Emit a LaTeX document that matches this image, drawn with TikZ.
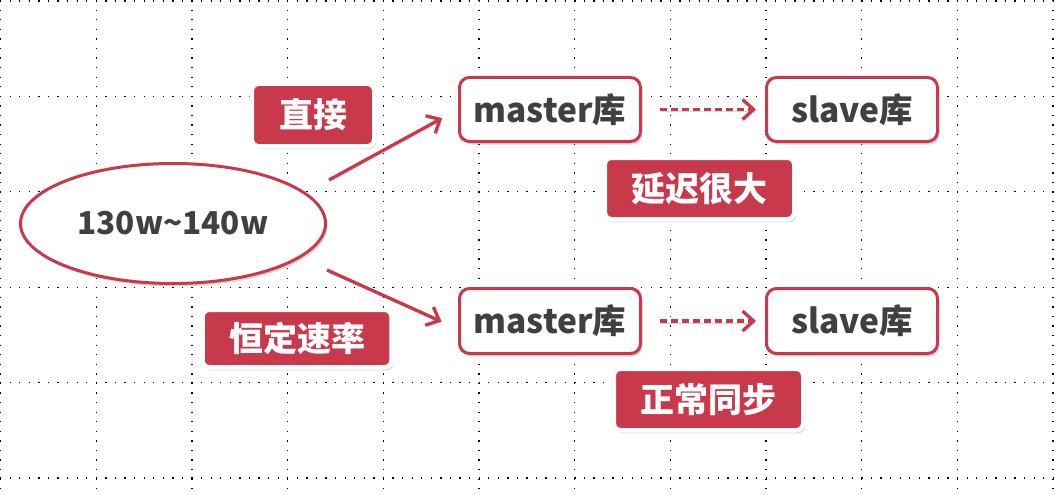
\documentclass[tikz,border=0pt]{standalone}
\usepackage{fontspec}
\setmainfont{Noto Sans CJK SC}[BoldFont={Noto Sans CJK SC Black}]
\usetikzlibrary{shapes.geometric,shadows,arrows.meta}
\definecolor{myred}{HTML}{C8394B}
\definecolor{mytext}{HTML}{404040}
\begin{document}
\begin{tikzpicture}[x=1pt,y=-1pt,
  griddot/.style={black, line width=1.3pt, dash pattern=on 1.3pt off 8.27pt},
  dbbox/.style={draw=myred, line width=3pt, fill=white, rounded corners=10pt,
    inner sep=0pt, font=\fontsize{33.5}{36}\selectfont\bfseries, text=mytext,
    drop shadow={shadow xshift=2pt, shadow yshift=-3pt, opacity=0.3}},
  valnode/.style={ellipse, draw=myred, line width=3pt, fill=white,
    inner sep=0pt, minimum width=305pt, minimum height=120pt,
    font=\fontsize{31.5}{34}\selectfont\bfseries, text=mytext,
    drop shadow={shadow xshift=2pt, shadow yshift=-3pt, opacity=0.3}},
  tagnode/.style={draw=white, line width=4.5pt, fill=myred, rounded corners=7pt,
    inner sep=0pt, font=\fontsize{34}{36}\selectfont\bfseries, text=white,
    drop shadow={shadow xshift=2pt, shadow yshift=-3pt, opacity=0.3}},
  linkarrow/.style={draw=myred, line width=3.3pt,
    -{Straight Barb[length=11pt,width=20pt]},
    preaction={draw=black!45, opacity=0.35, transform canvas={xshift=1.5pt,yshift=-2pt}}},
  dasharrow/.style={linkarrow, dash pattern=on 7pt off 4pt}
]
\useasboundingbox (0,0) rectangle (1055,495);
\fill[white] (0,0) rectangle (1055,495);
% dotted grid
\foreach \i in {0,...,11}
  \draw[griddot] ({0.8+\i*95.66},0) -- ({0.8+\i*95.66},495);
\foreach \j in {0,...,5}
  \draw[griddot] (0,{1+\j*95.4}) -- (1055,{1+\j*95.4});

% nodes
\node[valnode] (src) at (173,223.5) {130w\textasciitilde140w};
\node[dbbox, minimum width=181pt, minimum height=64pt] (m1) at (550,109.5) {master库};
\node[dbbox, minimum width=171pt, minimum height=64pt] (s1) at (852,109.5) {slave库};
\node[dbbox, minimum width=181pt, minimum height=65pt] (m2) at (550,321) {master库};
\node[dbbox, minimum width=171pt, minimum height=65pt] (s2) at (852,321) {slave库};

\node[tagnode, minimum width=122.5pt, minimum height=62.5pt] (t1) at (313,115) {直接};
\node[tagnode, minimum width=189pt, minimum height=57.5pt] (t2) at (297,338.5) {恒定速率};
\node[tagnode, minimum width=189.5pt, minimum height=61.5pt] (t3) at (699.5,188.5) {延迟很大};
\node[tagnode, minimum width=189.5pt, minimum height=61.5pt] (t4) at (708.5,399.5) {正常同步};

% connectors
\coordinate (a1) at (329,180);
\coordinate (a2) at (327,270);
\draw[linkarrow, shorten >=18pt] (a1) -- (m1.west);
\draw[linkarrow, shorten >=18pt] (a2) -- (m2.185);
\draw[dasharrow, shorten <=18pt, shorten >=9pt] (m1.east) -- (s1.west);
\draw[dasharrow, shorten <=18pt, shorten >=9pt] (m2.east) -- (s2.west);
\end{tikzpicture}
\end{document}
